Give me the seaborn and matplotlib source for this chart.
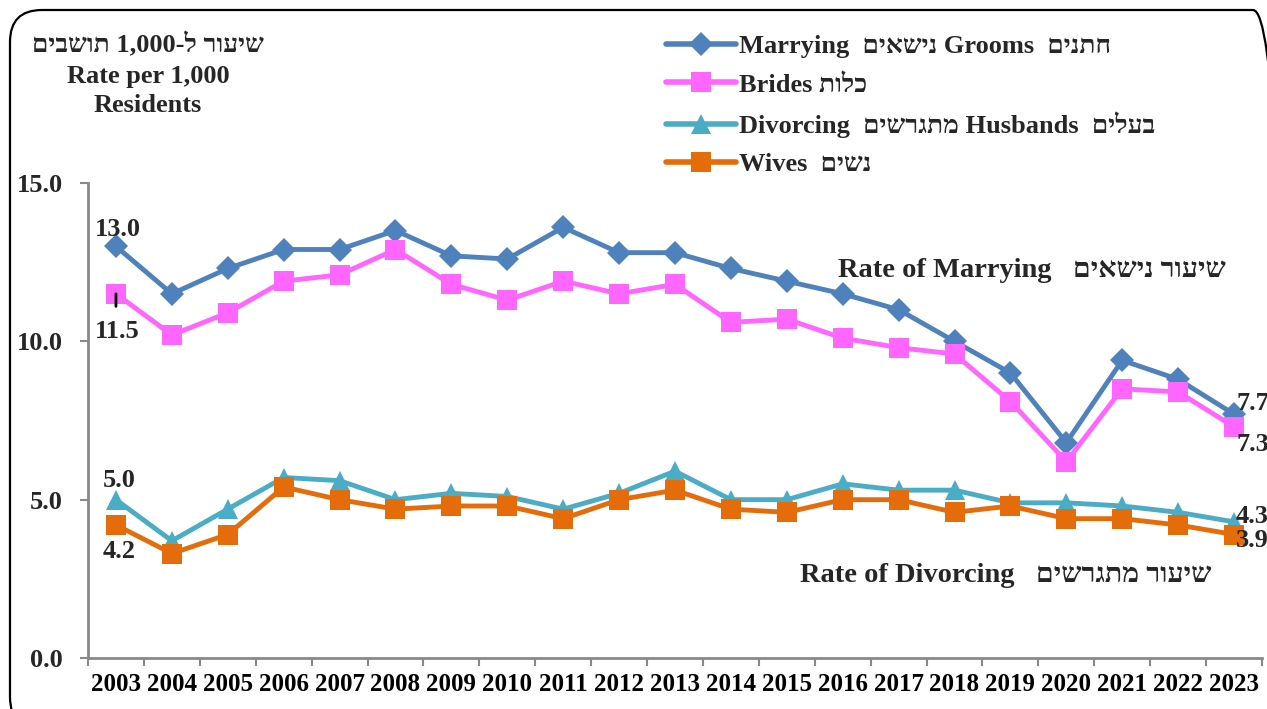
import re
import matplotlib
matplotlib.use("Agg")
import matplotlib.pyplot as plt
import matplotlib.transforms as mtransforms
from matplotlib.patches import FancyBboxPatch
from matplotlib.lines import Line2D
import seaborn as sns
import pandas as pd
import numpy as np

# ---------------- data ----------------
years = [str(y) for y in range(2003, 2024)]
grooms = [13.0, 11.5, 12.3, 12.9, 12.9, 13.5, 12.7, 12.6, 13.6, 12.8, 12.8,
          12.3, 11.9, 11.5, 11.0, 10.0, 9.0, 6.8, 9.4, 8.8, 7.7]
brides = [11.5, 10.2, 10.9, 11.9, 12.1, 12.9, 11.8, 11.3, 11.9, 11.5, 11.8,
          10.6, 10.7, 10.1, 9.8, 9.6, 8.1, 6.2, 8.5, 8.4, 7.3]
husbands = [5.0, 3.7, 4.7, 5.7, 5.6, 5.0, 5.2, 5.1, 4.7, 5.2, 5.9,
            5.0, 5.0, 5.5, 5.3, 5.3, 4.9, 4.9, 4.8, 4.6, 4.3]
wives = [4.2, 3.3, 3.9, 5.4, 5.0, 4.7, 4.8, 4.8, 4.4, 5.0, 5.3,
         4.7, 4.6, 5.0, 5.0, 4.6, 4.8, 4.4, 4.4, 4.2, 3.9]
series_labels = ["Marrying  נישאים Grooms  חתנים", "Brides כלות",
                 "Divorcing  מתגרשים Husbands  בעלים", "Wives  נשים"]
ytick_values = [0, 5, 10, 15]
ytick_labels = ["0.0", "5.0", "10.0", "15.0"]
y_title = ["שיעור ל-1,000 תושבים", "Rate per 1,000", "Residents"]
marry_note = "Rate of Marrying   שיעור נישאים"
divorce_note = "Rate of Divorcing   שיעור מתגרשים"

colors = ["#4F81BD", "#FF66FF", "#4BACC6", "#E46C0A"]
markers = ["D", "s", "^", "s"]
msizes = [12, 14, 14, 14]

# The reference shows Hebrew glyphs in left-to-right (logical) order.
# The renderer here applies bidi reordering, so pre-reverse Hebrew runs.
HEB = r"[\u0590-\u05FF]+(?: +[\u0590-\u05FF]+)*"


def shown(s):
    if re.match(r"[\u0590-\u05FF]", s):
        r = s[::-1]
        return re.sub(r"[0-9][0-9,.]*", lambda m: m.group(0)[::-1], r)
    return re.sub(HEB, lambda m: m.group(0)[::-1], s)


# ---------------- style ----------------
sns.set_theme(style="white")
plt.rcParams["font.family"] = ["Liberation Serif", "DejaVu Sans"]
plt.rcParams["font.weight"] = "bold"

W, H = 1267, 709
fig = plt.figure(figsize=(W / 100, H / 100), dpi=100)
fig.patch.set_facecolor("white")
ax = fig.add_axes([88 / W, 1 - 658 / H, (1262 - 88) / W, (658 - 183) / H])
ax.set_facecolor("none")

all_series = [grooms, brides, husbands, wives]
idx = np.arange(len(years))
df = pd.concat([
    pd.DataFrame({"x": idx, "value": vals, "series": lab})
    for vals, lab in zip(all_series, series_labels)
])

for lab, col, mk, ms in zip(series_labels, colors, markers, msizes):
    sub = df[df["series"] == lab]
    sns.lineplot(data=sub, x="x", y="value", ax=ax, color=col, marker=mk,
                 markersize=ms, markeredgewidth=0, linewidth=3.5,
                 legend=False, zorder=3)

ax.set_xlim(-0.5, len(years) - 0.5)
ax.set_ylim(0, 15)
ax.set_xlabel("")
ax.set_ylabel("")
ax.set_xticks(idx)
ax.set_xticklabels(years, fontsize=18, fontweight="bold")
ax.set_xticks(np.arange(-0.5, len(years), 1.0), minor=True)
ax.tick_params(axis="x", which="major", length=0, pad=11, colors="black")
ax.tick_params(axis="x", which="minor", length=6, width=1.5, color="#898989",
               direction="out", bottom=True)
ax.set_yticks(ytick_values)
ax.set_yticklabels(ytick_labels, fontsize=19, fontweight="bold")
ax.tick_params(axis="y", which="major", length=6, width=1.5, color="#898989",
               direction="out", pad=12, left=True)
for s in ["top", "right"]:
    ax.spines[s].set_visible(False)
for s in ["left", "bottom"]:
    ax.spines[s].set_color("#898989")
    ax.spines[s].set_linewidth(2)
ax.grid(False)


# ---------------- data labels ----------------
def lab(text, i, vals, dx, dy, ha="center"):
    ax.annotate(text, xy=(i, vals[i]), xytext=(dx * 0.72, dy * 0.72),
                textcoords="offset points", ha=ha, va="center",
                fontsize=19, fontweight="bold", annotation_clip=False,
                zorder=5)


lab(f"{grooms[0]:.1f}", 0, grooms, 2, 17)
lab(f"{brides[0]:.1f}", 0, brides, 1, -38)
lab(f"{husbands[0]:.1f}", 0, husbands, 3, 19)
lab(f"{wives[0]:.1f}", 0, wives, 3, -26)
n = len(years) - 1
lab(f"{grooms[n]:.1f}", n, grooms, 2, 11, ha="left")
lab(f"{brides[n]:.1f}", n, brides, 2, -18, ha="left")
lab(f"{husbands[n]:.1f}", n, husbands, 2, 5, ha="left")
lab(f"{wives[n]:.1f}", n, wives, 2, -6, ha="left")
# small leader line under first brides point
ax.annotate("", xy=(0, brides[0]), xytext=(0, -9),
            textcoords="offset points",
            arrowprops=dict(arrowstyle="-", color="black", lw=2,
                            shrinkA=0, shrinkB=0), zorder=6)

# ---------------- texts ----------------
for t, yy in zip(y_title, [45, 77, 106]):
    fig.text(148 / W, 1 - yy / H, shown(t), ha="center", va="center",
             fontsize=19, fontweight="bold")
fig.text(838 / W, 1 - 270 / H, shown(marry_note), ha="left", va="center",
         fontsize=20.5, fontweight="bold")
fig.text(800 / W, 1 - 575 / H, shown(divorce_note), ha="left", va="center",
         fontsize=20.5, fontweight="bold")

# ---------------- legend ----------------
handles = [Line2D([], [], color=c, marker=m, markersize=ms, markeredgewidth=0,
                  linewidth=4) for c, m, ms in zip(colors, markers, msizes)]
fig.legend(handles, [shown(s) for s in series_labels], loc="upper left",
           bbox_to_anchor=(666 / W, 1 - 35 / H), frameon=False,
           prop={"size": 19, "weight": "bold"}, handlelength=2.65,
           handletextpad=0.1, labelspacing=0.56, borderpad=0,
           borderaxespad=0)

# ---------------- outer rounded border ----------------
border = FancyBboxPatch((10, -20), 1285 - 10, 699 + 20,
                        boxstyle="round,pad=0,rounding_size=32",
                        transform=mtransforms.IdentityTransform(),
                        facecolor="none", edgecolor="black", linewidth=1.6)
fig.add_artist(border)

fig.savefig("out.png", dpi=100)
